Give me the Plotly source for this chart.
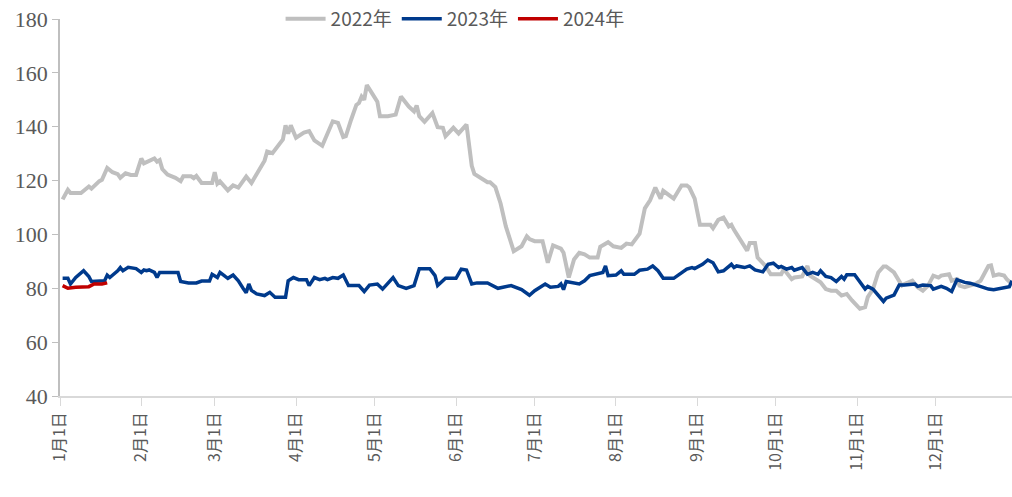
"""Price index by year, 2022-2024."""

import pandas as pd
import plotly.graph_objects as go

# day offsets from 1 Jan, and values
days_2022 = [1, 3, 4, 8, 11, 12, 15, 16, 18, 20, 22, 23, 25, 27, 29, 31, 32, 36, 37, 38,
             39, 41, 44, 46, 47, 50, 51, 52, 54, 58, 59, 60, 61, 64, 66, 68, 71, 73, 78, 79,
             81, 85, 86, 87, 88, 90, 93, 95, 97, 100, 104, 106, 108, 109, 111, 113, 114, 115,
             116, 117, 119, 121, 122, 125, 128, 130, 133, 135, 136, 137, 139, 142, 144, 146,
             147, 150, 152, 155, 157, 158, 163, 164, 166, 168, 170, 173, 176, 178, 179, 181,
             184, 186, 188, 191, 192, 194, 196, 198, 200, 202, 205, 206, 209, 211, 214, 216,
             218, 220, 221, 223, 225, 227, 229, 230, 234, 235, 237, 239, 240, 242, 244, 248,
             249, 251, 253, 255, 256, 257, 260, 262, 263, 265, 266, 269, 271, 275, 276, 279,
             280, 283, 285, 286, 290, 292, 294, 296, 298, 300, 302, 305, 307, 308, 310, 312,
             314, 315, 318, 321, 322, 325, 327, 329, 331, 333, 335, 336, 339, 340, 342, 343,
             345, 347, 349, 351, 354, 355, 356, 358, 360, 361, 363]
vals_2022 = [113.0, 116.6, 115.4, 115.4, 117.8, 117.0, 119.8, 120.3, 124.7, 123.1, 122.4,
             121.0, 122.7, 122.1, 122.1, 128.2, 126.4, 128.2, 127.0, 127.6, 124.3, 122.2,
             121.0, 119.8, 121.6, 121.6, 120.9, 121.7, 119.1, 119.1, 123.1, 118.8, 119.7,
             116.4, 118.2, 117.4, 121.5, 119.1, 127.4, 130.8, 130.2, 135.3, 140.5, 137.4,
             140.5, 135.9, 137.8, 138.4, 134.9, 132.9, 142.0, 141.4, 136.2, 136.5, 142.6,
             148.1, 148.8, 151.2, 150.0, 155.5, 152.4, 149.3, 143.9, 143.9, 144.5, 151.2,
             147.5, 145.7, 147.9, 143.9, 141.8, 145.1, 139.8, 139.6, 136.5, 139.6, 137.5,
             140.8, 125.5, 122.5, 119.4, 119.4, 117.6, 111.5, 103.0, 93.8, 95.6, 99.3, 98.3,
             97.5, 97.5, 89.5, 95.9, 94.7, 93.2, 84.0, 90.7, 93.2, 92.6, 91.4, 91.4, 95.4,
             97.1, 95.6, 95.0, 96.6, 96.3, 98.7, 100.3, 109.7, 112.7, 117.4, 113.3, 116.2,
             113.3, 114.9, 118.2, 118.2, 117.4, 113.3, 103.6, 103.6, 102.3, 105.4, 106.3,
             103.0, 103.6, 101.7, 96.8, 94.0, 96.8, 96.8, 91.4, 88.3, 85.2, 85.2, 87.1, 83.4,
             84.0, 84.4, 88.3, 84.7, 82.2, 79.7, 79.1, 79.1, 77.3, 77.9, 75.5, 72.4, 73.0,
             76.7, 79.7, 85.9, 88.1, 88.1, 85.9, 81.0, 81.6, 82.8, 80.4, 79.1, 81.0, 84.7,
             84.0, 84.7, 85.2, 82.8, 83.4, 81.0, 80.4, 81.0, 81.6, 82.8, 88.3, 88.5, 84.7,
             85.2, 84.7, 83.4, 81.6]

days_2023 = [1, 3, 4, 6, 9, 11, 12, 15, 17, 18, 19, 22, 23, 24, 26, 29, 31, 32, 33, 34,
             36, 37, 38, 42, 45, 46, 49, 52, 54, 57, 58, 60, 61, 63, 64, 66, 68, 70, 71, 72,
             73, 75, 78, 80, 82, 86, 87, 89, 91, 94, 95, 97, 99, 101, 102, 104, 106, 108, 110,
             114, 116, 118, 121, 123, 126, 127, 129, 132, 135, 137, 141, 143, 144, 147, 151,
             153, 155, 157, 159, 163, 167, 172, 176, 179, 181, 182, 185, 187, 190, 191, 192,
             193, 198, 200, 202, 207, 208, 209, 212, 214, 215, 219, 221, 224, 226, 228, 230,
             234, 236, 239, 241, 242, 245, 247, 249, 251, 253, 256, 257, 258, 261, 263, 265,
             268, 270, 272, 274, 275, 277, 279, 280, 283, 285, 287, 289, 290, 292, 294, 296,
             298, 299, 300, 303, 307, 308, 310, 314, 315, 318, 320, 322, 326, 327, 329, 332,
             333, 336, 338, 340, 342, 345, 347, 350, 354, 356, 359, 362, 363]
vals_2023 = [83.7, 83.7, 81.6, 84.0, 86.5, 84.4, 82.5, 82.5, 82.8, 84.9, 84.0, 86.5, 87.7,
             86.5, 87.8, 87.3, 85.9, 86.8, 86.5, 86.8, 85.9, 84.0, 85.9, 85.9, 85.9, 82.5,
             82.0, 82.0, 82.7, 82.7, 85.2, 84.0, 85.9, 84.4, 83.7, 84.9, 82.8, 79.7, 78.3,
             81.6, 79.2, 77.9, 77.3, 78.5, 76.7, 76.7, 82.8, 84.0, 83.2, 83.2, 81.0, 84.0,
             83.2, 83.7, 83.2, 84.0, 83.7, 84.9, 81.0, 81.0, 78.8, 81.2, 81.6, 79.7, 82.8,
             84.0, 81.0, 80.0, 81.0, 87.3, 87.3, 84.7, 81.0, 83.7, 83.7, 87.1, 86.8, 81.6,
             82.0, 82.0, 80.0, 81.0, 79.5, 77.4, 79.1, 79.7, 81.6, 80.4, 80.7, 81.6, 79.5,
             82.5, 81.6, 82.8, 84.7, 85.9, 88.3, 84.7, 84.9, 86.5, 85.2, 85.2, 86.7, 87.1,
             88.3, 86.5, 83.7, 83.7, 85.2, 87.1, 87.7, 87.3, 88.9, 90.5, 89.5, 86.1, 86.5,
             88.9, 87.7, 88.3, 87.7, 88.3, 86.8, 86.1, 88.9, 89.3, 87.7, 88.1, 87.1, 87.7,
             86.7, 87.7, 85.2, 85.9, 85.2, 86.5, 84.4, 84.0, 82.5, 84.4, 83.4, 85.0, 85.0,
             79.7, 80.7, 79.7, 75.1, 76.3, 77.5, 81.2, 81.2, 81.6, 80.7, 81.2, 81.0, 79.7,
             80.7, 80.0, 78.8, 83.2, 82.2, 81.9, 81.0, 79.7, 79.5, 80.0, 80.6, 82.8]

days_2024 = [1, 3, 6, 10, 11, 13, 16, 18]
vals_2024 = [81.0, 80.0, 80.4, 80.7, 80.6, 81.6, 81.6, 82.0]

month_labels = ['1月1日', '2月1日', '3月1日', '4月1日', '5月1日', '6月1日',
                '7月1日', '8月1日', '9月1日', '10月1日', '11月1日', '12月1日']

base = pd.Timestamp('2023-01-01')


def to_dates(days):
    return base + pd.to_timedelta(days, unit='D')


series = [
    ('2022年', days_2022, vals_2022, '#BFBFBF', 4),
    ('2023年', days_2023, vals_2023, '#003A8C', 3.5),
    ('2024年', days_2024, vals_2024, '#C00000', 3.5),
]

fig = go.Figure()
for name, d, v, color, w in series:
    fig.add_trace(go.Scatter(x=to_dates(d), y=v, name=name, mode='lines',
                             line=dict(color=color, width=w)))

month_ticks = pd.date_range('2023-01-01', periods=12, freq='MS')

fig.update_layout(
    width=1012, height=497,
    margin=dict(l=60, r=0, t=13, b=101),
    plot_bgcolor='white', paper_bgcolor='white',
    showlegend=True,
    legend=dict(orientation='h', x=0.415, xanchor='center', y=1.0, yanchor='middle',
                font=dict(family='Noto Sans CJK SC', size=19, color='#595959'),
                bgcolor='rgba(255,255,255,0)', itemwidth=40),
)
fig.update_xaxes(
    type='date', range=['2023-01-01', '2023-12-30'], automargin=False,
    tickvals=month_ticks, ticktext=month_labels, tickangle=-90,
    tickfont=dict(family='Noto Sans CJK SC', size=16, color='#595959'),
    showgrid=False, showline=True, linecolor='#D9D9D9', linewidth=1.5,
    ticks='outside', ticklen=8, tickcolor='#D9D9D9', zeroline=False,
)
fig.update_yaxes(
    range=[40, 180], dtick=20, automargin=False,
    tickfont=dict(family='Liberation Serif', size=22, color='#595959'),
    showgrid=False, showline=True, linecolor='#BFBFBF', linewidth=1.5,
    ticks='outside', ticklen=6, tickcolor='#BFBFBF', zeroline=False,
)

# drop the default page margin so the figure sits at the window's corner
fig.write_html('out.html', config={'displayModeBar': False},
               post_script="document.body.style.margin='0px';")
